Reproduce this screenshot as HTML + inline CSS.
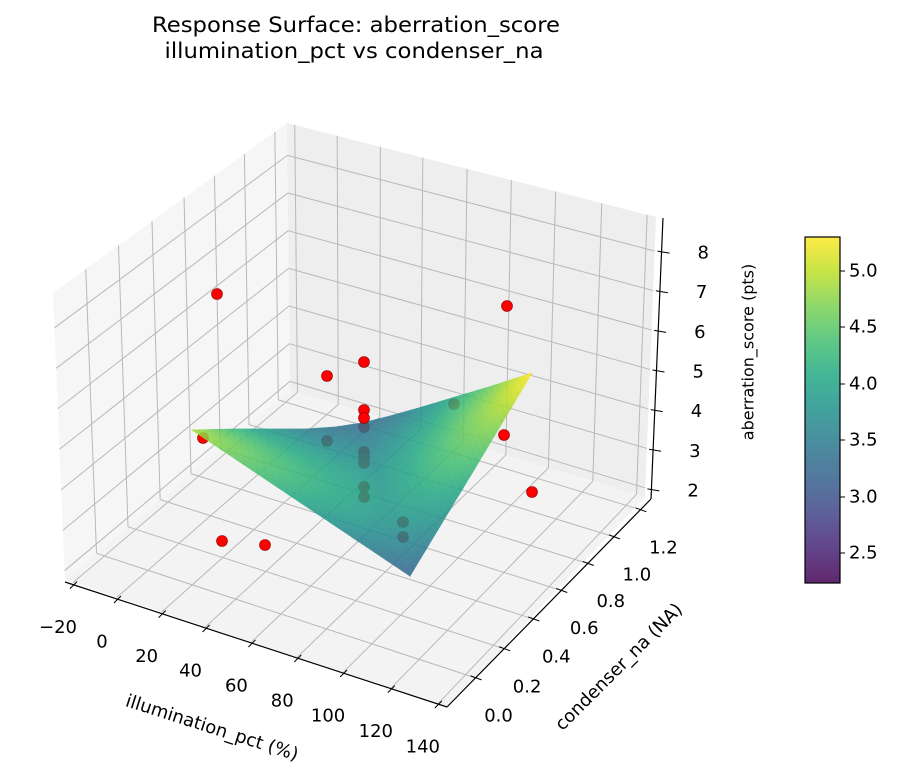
<!DOCTYPE html>
<html><head><meta charset="utf-8"><style>
html,body{margin:0;padding:0;background:#fff;}
svg{display:block;font-family:"DejaVu Sans","Liberation Sans",sans-serif;}
</style></head><body>
<svg id="s" width="902" height="774" viewBox="0 0 902 774" xmlns="http://www.w3.org/2000/svg">
<defs>
<linearGradient id="cb" x1="0" y1="1" x2="0" y2="0">
<stop offset="0" stop-color="#440154"/><stop offset="0.1" stop-color="#482475"/><stop offset="0.2" stop-color="#414487"/><stop offset="0.3" stop-color="#355f8d"/><stop offset="0.4" stop-color="#2a788e"/><stop offset="0.5" stop-color="#21918c"/><stop offset="0.6" stop-color="#22a884"/><stop offset="0.7" stop-color="#44bf70"/><stop offset="0.8" stop-color="#7ad151"/><stop offset="0.9" stop-color="#bddf26"/><stop offset="1" stop-color="#fde725"/>
</linearGradient>
</defs>
<g id="panes"></g>
<g id="grid" stroke="#b8b8b8" stroke-width="1" fill="none"></g>
<g id="occ"></g>
<g id="surf" opacity="0.85"></g>
<g id="vis"></g>
<g id="axes"></g>
<text x="356" y="32" font-size="21" text-anchor="middle" textLength="408" lengthAdjust="spacingAndGlyphs">Response Surface: aberration_score</text>
<text x="354" y="58" font-size="21" text-anchor="middle" textLength="379" lengthAdjust="spacingAndGlyphs">illumination_pct vs condenser_na</text>
<text x="212" y="728" font-size="18" text-anchor="middle" dominant-baseline="central" transform="rotate(17.7 212 728)">illumination_pct (%)</text>
<text x="619" y="667" font-size="18" text-anchor="middle" dominant-baseline="central" transform="rotate(-45 619 667)">condenser_na (NA)</text>
<text x="748" y="352" font-size="16" text-anchor="middle" dominant-baseline="central" transform="rotate(-90 748 352)">aberration_score (pts)</text>
<rect x="805" y="237" width="35" height="346" fill="url(#cb)" opacity="0.85"/>
<rect x="805" y="237" width="35" height="346" fill="none" stroke="#000" stroke-width="1.2"/>
<g stroke="#000" stroke-width="1">
<line x1="840" y1="271" x2="845" y2="271"/><line x1="840" y1="327" x2="845" y2="327"/><line x1="840" y1="384" x2="845" y2="384"/><line x1="840" y1="440" x2="845" y2="440"/><line x1="840" y1="497" x2="845" y2="497"/><line x1="840" y1="553" x2="845" y2="553"/>
</g>
<g font-size="18" dominant-baseline="central">
<text x="849" y="271">5.0</text><text x="849" y="327">4.5</text><text x="849" y="384">4.0</text><text x="849" y="440">3.5</text><text x="849" y="497">3.0</text><text x="849" y="553">2.5</text>
</g>
</svg>
<script>
(function(){
var NS="http://www.w3.org/2000/svg";
function el(p,tag,a){var e=document.createElementNS(NS,tag);for(var k in a)e.setAttribute(k,a[k]);p.appendChild(e);return e;}
var C={ "000":[65,580],"010":[290,390],"110":[645,497],"100":[447,707],
        "001":[53,293],"011":[287,123],"111":[656,217],"101":[449,405]};
function P(u,v,w){var x=0,y=0;
 for(var a=0;a<2;a++)for(var b=0;b<2;b++)for(var c=0;c<2;c++){
  var f=(a?u:1-u)*(b?v:1-v)*(c?w:1-w);var q=C[""+a+b+c];x+=f*q[0];y+=f*q[1];}
 return [x,y];}
function interp(tab,fr,val){
 var n=tab.length;var i=0;
 if(val<=tab[0])i=0;else if(val>=tab[n-1])i=n-2;else{while(val>tab[i+1])i++;}
 return fr[i]+(fr[i+1]-fr[i])*(val-tab[i])/(tab[i+1]-tab[i]);}
var XT=[-20,0,20,40,60,80,100,120,140],XF=[0.021,0.136,0.253,0.368,0.488,0.608,0.728,0.853,0.976];
var YT=[0,0.2,0.4,0.6,0.8,1.0,1.2],YF=[0.14,0.28,0.423,0.56,0.69,0.818,0.948];
var ZT=[2,3,4,5,6,7,8];
function fz(z){return (z-1.77)/7.09;}
var panes=document.getElementById("panes"),grid=document.getElementById("grid"),axes=document.getElementById("axes");
function poly(g,pts,a){a.points=pts.map(function(p){return p[0].toFixed(1)+","+p[1].toFixed(1)}).join(" ");return el(g,"polygon",a);}
function line(g,p,q,a){a=a||{};a.x1=p[0];a.y1=p[1];a.x2=q[0];a.y2=q[1];return el(g,"line",a);}
poly(panes,[P(0,0,0),P(0,1,0),P(0,1,1),P(0,0,1)],{fill:"#f6f6f6"});
poly(panes,[P(0,1,0),P(1,1,0),P(1,1,1),P(0,1,1)],{fill:"#eeeeee"});
poly(panes,[P(0,0,0),P(1,0,0),P(1,1,0),P(0,1,0)],{fill:"#f3f3f3"});
YT.forEach(function(y){var v=interp(YT,YF,y);
 line(grid,P(0,v,0),P(0,v,1)); line(grid,P(0,v,0),P(1,v,0));});
XT.forEach(function(x){var u=interp(XT,XF,x);
 line(grid,P(u,1,0),P(u,1,1)); line(grid,P(u,0,0),P(u,1,0));});
ZT.forEach(function(z){var w=fz(z);
 line(grid,P(0,0,w),P(0,1,w)); line(grid,P(0,1,w),P(1,1,w));});
var Ax=[65,582],Dx=[447,707],Cy=[651,499],Zt=[663,218];
line(axes,Ax,Dx,{stroke:"#000","stroke-width":1.2});
line(axes,Dx,Cy,{stroke:"#000","stroke-width":1.2});
line(axes,Cy,Zt,{stroke:"#000","stroke-width":1.2});
XT.forEach(function(x){var u=interp(XT,XF,x);var p=[Ax[0]+(Dx[0]-Ax[0])*u,Ax[1]+(Dx[1]-Ax[1])*u];
 line(axes,[p[0]-3,p[1]+4],[p[0]+4,p[1]-3],{stroke:"#000","stroke-width":1});
 var t=el(axes,"text",{x:p[0]-15,y:p[1]+43,"font-size":18,"text-anchor":"middle","dominant-baseline":"central"});
 t.textContent=(x<0?"\u2212"+(-x):""+x);});
YT.forEach(function(y){var v=interp(YT,YF,y);var p=[Dx[0]+(Cy[0]-Dx[0])*v,Dx[1]+(Cy[1]-Dx[1])*v];
 line(axes,[p[0]-5,p[1]-2],[p[0]+6,p[1]+2],{stroke:"#000","stroke-width":1});
 var t=el(axes,"text",{x:p[0]+23,y:p[1]+38,"font-size":18,"text-anchor":"middle","dominant-baseline":"central"});
 t.textContent=y.toFixed(1);});
ZT.forEach(function(z){var w=fz(z);var p=[Cy[0]+(Zt[0]-Cy[0])*w,Cy[1]+(Zt[1]-Cy[1])*w];
 line(axes,[p[0]-4,p[1]-1],[p[0]+8,p[1]+1],{stroke:"#000","stroke-width":1});
 var t=el(axes,"text",{x:p[0]+36,y:p[1]+1,"font-size":18,"text-anchor":"start","dominant-baseline":"central"});
 t.textContent=""+z;});
var V=["#440154","#482475","#414487","#355f8d","#2a788e","#21918c","#22a884","#44bf70","#7ad151","#bddf26","#fde725"].map(function(h){return [parseInt(h.substr(1,2),16),parseInt(h.substr(3,2),16),parseInt(h.substr(5,2),16)];});
function vir(val){var t=(val-2.23)/(5.30-2.23);t=Math.max(0,Math.min(1,t))*10;var i=Math.min(9,Math.floor(t));var f=t-i;
 var c=[0,1,2].map(function(k){return Math.round(V[i][k]+(V[i+1][k]-V[i][k])*f);});return "rgb("+c.join(",")+")";}
function pl(pts,s){var n=pts.length-1;var x=s*n;var i=Math.min(n-1,Math.floor(x));var f=x-i;
 return [pts[i][0]+(pts[i+1][0]-pts[i][0])*f,pts[i][1]+(pts[i+1][1]-pts[i][1])*f];}
function pv(tab,s){var n=tab.length-1;var x=s*n;var i=Math.min(n-1,Math.floor(x));var f=x-i;return tab[i]+(tab[i+1]-tab[i])*f;}
var top=[[192,430],[232,429],[272,429],[305,429],[335,427],[362,423],[390,416],[422,407],[455,397],[492,386],[532,373]];
var topV=[4.9,4.3,3.8,3.5,3.35,3.3,3.4,3.7,4.1,4.6,5.3];
var bot=[[192,430],[301,503],[410,576],[471,475],[532,373]];
var botV=[4.9,4.0,3.2,4.2,5.3];
var surf=document.getElementById("surf");
var NS_=60,NT=24;
function S(s,t){var a=pl(top,s),b=pl(bot,s);return [a[0]+(b[0]-a[0])*t,a[1]+(b[1]-a[1])*t];}
function SV(s,t){return pv(topV,s)*(1-t)+pv(botV,s)*t+0.6*Math.sin(Math.PI*t)*Math.sin(Math.PI*s);}
for(var i=0;i<NS_;i++)for(var j=0;j<NT;j++){
 var s0=i/NS_,s1=(i+1)/NS_,t0=j/NT,t1=(j+1)/NT;
 var col=vir(SV((s0+s1)/2,(t0+t1)/2));
 poly(surf,[S(s0,t0),S(s1,t0),S(s1,t1),S(s0,t1)],{fill:col,stroke:col,"stroke-width":0.7});
}
var occ=[[364,427],[203,438],[327,441],[364,452],[364,457],[364,463],[364,487],[364,497],[454,404],[403,522],[403,537]];
var vis=[[217,294],[507,306],[364,362],[327,376],[364,410],[364,418],[504,435],[532,492],[222,541],[265,545]];
occ.forEach(function(p){el(document.getElementById("occ"),"circle",{cx:p[0],cy:p[1],r:5.5,fill:"#ff0000",stroke:"#8b0000","stroke-width":0.6});});
vis.forEach(function(p){el(document.getElementById("vis"),"circle",{cx:p[0],cy:p[1],r:5.5,fill:"#ff0000",stroke:"#8b0000","stroke-width":0.6});});
})();
</script>
</body></html>
